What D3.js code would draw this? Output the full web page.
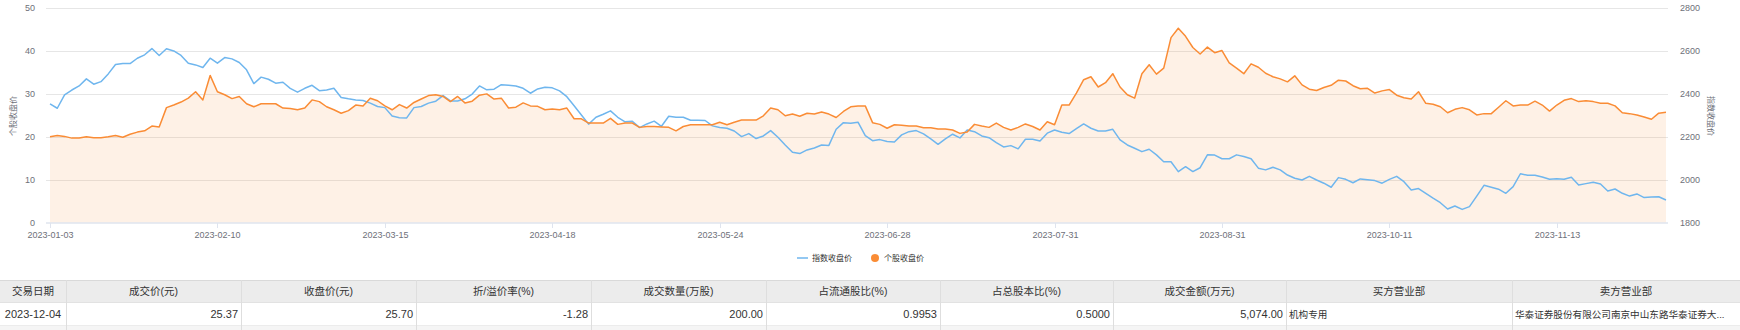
<!DOCTYPE html>
<html>
<head>
<meta charset="utf-8">
<script src="https://cdn.jsdelivr.net/npm/d3@7"></script>
<style>
  body { margin: 0; background: #fff; font-family: "Liberation Sans", Arial, "Noto Sans CJK SC", sans-serif; }
  #graph { position: absolute; left: 0; top: 0; }
</style>
</head>
<body>
<svg id="graph" width="1740" height="330"></svg>
<script>
// trading calendar: weekdays minus exchange holidays
var startDay = "2023-01-03", endDay = "2023-12-04";
var holidays = ["2023-01-23","2023-01-24","2023-01-25","2023-01-26","2023-01-27","2023-04-05",
  "2023-05-01","2023-05-02","2023-05-03","2023-06-22","2023-06-23","2023-09-29",
  "2023-10-02","2023-10-03","2023-10-04","2023-10-05","2023-10-06"];
var tickLabels = ["2023-01-03","2023-02-10","2023-03-15","2023-04-18","2023-05-24",
  "2023-06-28","2023-07-31","2023-08-31","2023-10-11","2023-11-13"];

// 个股收盘价 (left axis)
var stockClose = [
  20.0,20.3,20.1,19.7,19.7,20.0,19.8,19.8,20.0,20.3,
  19.9,20.6,21.1,21.4,22.5,22.3,26.8,27.4,28.1,29.0,
  30.5,28.6,34.3,30.5,29.8,28.9,29.4,27.7,27.0,27.7,
  27.7,27.7,26.7,26.6,26.3,26.7,28.6,28.2,27.0,26.3,
  25.5,26.1,27.4,27.2,29.0,28.4,27.2,26.3,27.5,26.7,
  28.0,28.8,29.6,29.8,29.4,28.2,29.4,27.9,28.3,29.7,
  30.0,28.8,29.0,26.7,26.9,27.9,27.2,27.1,26.3,26.5,
  26.3,26.7,24.2,24.2,23.2,23.2,23.2,24.3,22.9,23.2,
  23.2,22.2,22.4,22.4,22.3,22.2,21.4,22.4,22.8,22.8,
  22.8,22.8,23.4,22.8,23.4,23.9,23.9,23.9,24.9,26.7,
  26.3,24.9,25.3,24.8,25.5,25.3,25.8,25.3,24.5,25.9,
  27.0,27.2,27.2,23.3,22.9,22.0,22.8,22.7,22.5,22.5,
  22.1,22.1,21.8,21.8,21.6,20.8,21.1,22.9,22.5,22.2,
  23.2,22.2,21.6,22.2,23.0,22.4,21.6,23.5,22.8,27.4,
  27.4,30.2,33.3,34.0,31.6,32.6,34.7,31.6,29.8,29.0,
  34.7,36.8,34.6,36.0,43.1,45.3,43.4,40.8,39.3,40.9,
  39.6,40.1,37.2,36.0,34.7,37.0,36.2,34.8,34.0,33.5,
  32.8,34.2,32.1,31.1,30.8,31.5,32.0,33.2,33.0,31.9,
  31.2,31.3,30.2,30.7,31.0,29.7,29.1,28.8,30.5,27.8,
  27.6,27.0,25.6,26.4,26.8,26.3,25.1,25.4,25.4,26.9,
  28.4,27.2,27.4,27.4,28.3,27.4,26.0,27.4,28.5,28.9,
  28.2,28.4,28.2,27.8,27.8,27.2,25.6,25.4,25.1,24.6,
  24.1,25.5,25.7];

// 指数收盘价 (right axis)
var indexClose = [
  2353,2333,2395,2418,2437,2470,2445,2457,2493,2537,
  2541,2541,2566,2582,2611,2579,2610,2600,2579,2543,
  2535,2523,2566,2543,2569,2563,2546,2512,2448,2478,
  2468,2450,2454,2426,2408,2426,2440,2415,2418,2426,
  2383,2377,2372,2369,2357,2341,2336,2297,2289,2288,
  2336,2341,2357,2366,2392,2367,2367,2377,2399,2437,
  2419,2422,2443,2440,2437,2426,2403,2423,2431,2428,
  2414,2387,2345,2302,2259,2291,2305,2321,2291,2270,
  2272,2243,2260,2273,2249,2296,2291,2291,2277,2277,
  2276,2251,2243,2240,2227,2201,2215,2192,2204,2229,
  2198,2162,2128,2122,2139,2148,2162,2160,2235,2266,
  2263,2268,2206,2182,2187,2178,2176,2209,2224,2229,
  2214,2190,2165,2190,2212,2195,2232,2224,2204,2196,
  2173,2153,2159,2144,2189,2189,2181,2217,2232,2221,
  2215,2238,2260,2240,2227,2227,2235,2186,2162,2147,
  2131,2142,2116,2084,2084,2038,2061,2038,2056,2116,
  2115,2098,2098,2116,2108,2098,2054,2046,2058,2046,
  2022,2007,1999,2016,1999,1984,1965,2010,2002,1986,
  2004,2000,1996,1984,2002,2016,1991,1952,1959,1937,
  1914,1893,1864,1878,1862,1875,1924,1974,1965,1956,
  1937,1968,2028,2021,2021,2013,2002,2005,2002,2012,
  1976,1982,1988,1980,1948,1957,1937,1924,1934,1917,
  1920,1921,1906];

var leftTicks = [0, 10, 20, 30, 40, 50];
var rightTicks = [1800, 2000, 2200, 2400, 2600, 2800];

var tableHeaders = ["交易日期","成交价(元)","收盘价(元)","折/溢价率(%)","成交数量(万股)",
  "占流通股比(%)","占总股本比(%)","成交金额(万元)","买方营业部","卖方营业部"];
var tableRow = ["2023-12-04","25.37","25.70","-1.28","200.00","0.9953","0.5000","5,074.00",
  "机构专用","华泰证券股份有限公司南京中山东路华泰证券大..."];

var fmt = d3.timeFormat("%Y-%m-%d");
var dates = d3.timeDay.range(new Date(2023, 0, 3), new Date(2023, 11, 5))
  .filter(function(d){ return d.getDay() != 0 && d.getDay() != 6 && holidays.indexOf(fmt(d)) < 0; })
  .map(fmt);
console.log("days", dates.length);

drawChart();

function drawChart(){
  var svg = d3.select("#graph");
  var blue = "#6fb6ee", orange = "#fa8c35";

  var x = d3.scalePoint().domain(dates).range([50, 1666]);
  var yL = d3.scaleLinear().domain([0, 50]).range([222.7, 8]);
  var yR = d3.scaleLinear().domain([1800, 2800]).range([222.7, 8]);

  // grid
  svg.append("g").selectAll("line").data(leftTicks.slice(1)).enter().append("line")
    .attr("x1", 46).attr("x2", 1668)
    .attr("y1", function(d){ return Math.round(yL(d)) + 0.5; })
    .attr("y2", function(d){ return Math.round(yL(d)) + 0.5; })
    .attr("stroke", "#e6e6e6").attr("stroke-width", 1);

  // area + lines
  var area = d3.area()
    .x(function(d, i){ return x(dates[i]); })
    .y0(yL(0)).y1(function(d){ return yL(d); });
  svg.append("path").datum(stockClose).attr("d", area)
    .attr("fill", orange).attr("fill-opacity", 0.12);

  var lineL = d3.line().x(function(d, i){ return x(dates[i]); }).y(function(d){ return yL(d); });
  var lineR = d3.line().x(function(d, i){ return x(dates[i]); }).y(function(d){ return yR(d); });

  svg.append("path").datum(indexClose).attr("d", lineR)
    .attr("fill", "none").attr("stroke", blue).attr("stroke-width", 1.5).attr("stroke-linejoin", "round");
  svg.append("path").datum(stockClose).attr("d", lineL)
    .attr("fill", "none").attr("stroke", orange).attr("stroke-width", 1.5).attr("stroke-linejoin", "round");

  // x axis
  svg.append("line").attr("x1", 46).attr("x2", 1668).attr("y1", 223).attr("y2", 223)
    .attr("stroke", "#dfe4ee").attr("stroke-width", 1.5);
  var xa = svg.append("g").selectAll("g").data(tickLabels).enter().append("g")
    .attr("transform", function(d){ return "translate(" + (Math.round(x(d)) + 0.5) + ",0)"; });
  xa.append("line").attr("y1", 223).attr("y2", 228).attr("stroke", "#dfe4ee");
  xa.append("text").attr("y", 238).attr("text-anchor", "middle")
    .style("font-size", "9px").style("fill", "#6e7079").text(function(d){ return d; });

  // y labels
  svg.append("g").selectAll("text").data(leftTicks).enter().append("text")
    .attr("x", 35).attr("y", function(d){ return yL(d) + 3; }).attr("text-anchor", "end")
    .style("font-size", "9px").style("fill", "#6e7079").text(function(d){ return d; });
  svg.append("g").selectAll("text").data(rightTicks).enter().append("text")
    .attr("x", 1680).attr("y", function(d){ return yR(d) + 3; }).attr("text-anchor", "start")
    .style("font-size", "9px").style("fill", "#6e7079").text(function(d){ return d; });

  // axis titles
  svg.append("text").attr("transform", "translate(16,116) rotate(-90)").attr("text-anchor", "middle")
    .style("font-size", "8px").style("fill", "#6e7079").text("个股收盘价");
  svg.append("text").attr("transform", "translate(1708,116) rotate(90)").attr("text-anchor", "middle")
    .style("font-size", "8px").style("fill", "#6e7079").text("指数收盘价");

  // legend
  var lg = svg.append("g").attr("transform", "translate(797,258)");
  lg.append("line").attr("x1", 0).attr("x2", 11).attr("y1", 0).attr("y2", 0)
    .attr("stroke", blue).attr("stroke-width", 1.5);
  lg.append("text").attr("x", 15).attr("y", 3).style("font-size", "8px").style("fill", "#333").text("指数收盘价");
  lg.append("circle").attr("cx", 78).attr("cy", 0).attr("r", 4).attr("fill", orange);
  lg.append("text").attr("x", 87).attr("y", 3).style("font-size", "8px").style("fill", "#333").text("个股收盘价");

  // table
  var colEdges = [0, 66, 241, 416, 591, 766, 940, 1113, 1286, 1512, 1740];
  var tTop = 280, hH = 22, rH = 23;
  var tb = svg.append("g");
  tb.append("rect").attr("x", 0).attr("y", tTop).attr("width", 1740).attr("height", hH).attr("fill", "#ececec");
  tb.append("rect").attr("x", 0).attr("y", tTop + hH + rH).attr("width", 1740).attr("height", 20).attr("fill", "#f5f5f5");
  tb.append("line").attr("x1", 0).attr("x2", 1740).attr("y1", tTop + 0.5).attr("y2", tTop + 0.5).attr("stroke", "#d9d9d9");
  tb.append("line").attr("x1", 0).attr("x2", 1740).attr("y1", tTop + hH + 0.5).attr("y2", tTop + hH + 0.5).attr("stroke", "#e2e2e2");
  tb.append("line").attr("x1", 0).attr("x2", 1740).attr("y1", tTop + hH + rH + 0.5).attr("y2", tTop + hH + rH + 0.5).attr("stroke", "#ececec");
  tb.selectAll(".vl").data(colEdges.slice(1, -1)).enter().append("line")
    .attr("x1", function(d){ return d + 0.5; }).attr("x2", function(d){ return d + 0.5; })
    .attr("y1", tTop).attr("y2", 330).attr("stroke", "#dedede");

  tb.selectAll(".th").data(tableHeaders).enter().append("text")
    .attr("x", function(d, i){ return (colEdges[i] + colEdges[i + 1]) / 2; })
    .attr("y", tTop + 15).attr("text-anchor", "middle")
    .style("font-size", "10.5px").style("fill", "#333").text(function(d){ return d; });

  tb.selectAll(".td").data(tableRow).enter().append("text")
    .attr("x", function(d, i){
      if (i == 0) return (colEdges[0] + colEdges[1]) / 2;
      if (i >= 8) return colEdges[i] + 3;
      return colEdges[i + 1] - 3;
    })
    .attr("y", tTop + hH + 16)
    .attr("text-anchor", function(d, i){ return i == 0 ? "middle" : (i >= 8 ? "start" : "end"); })
    .style("font-size", function(d, i){ return i >= 8 ? "9.6px" : "11px"; })
    .style("fill", "#333").text(function(d){ return d; });
}
</script>
</body>
</html>
